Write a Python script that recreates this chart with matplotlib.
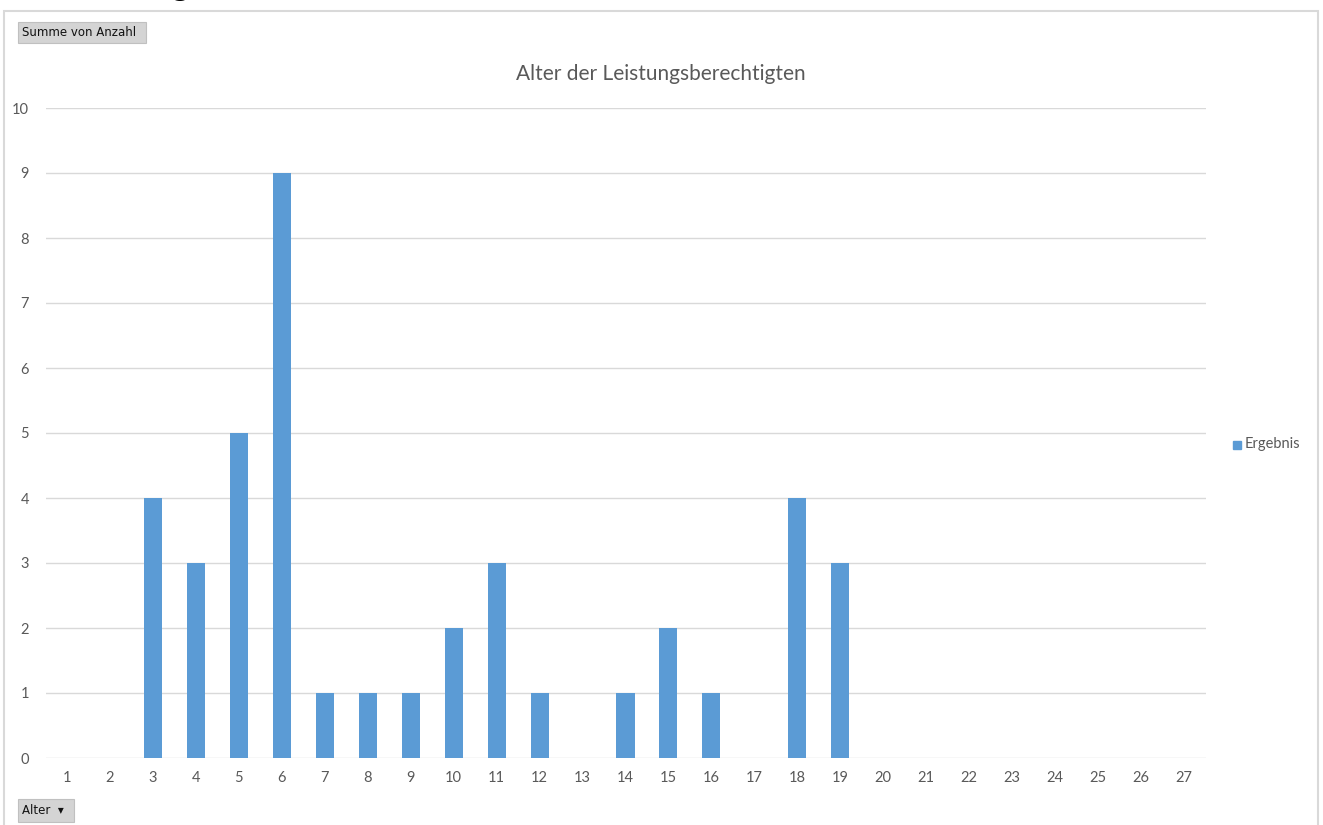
import matplotlib
matplotlib.use("Agg")
import matplotlib.pyplot as plt
from matplotlib.patches import Rectangle

alter = list(range(1, 28))
anzahl = [0, 0, 4, 3, 5, 9, 1, 1, 1, 2, 3, 1, 0, 1, 2, 1, 0, 4, 3, 0, 0, 0, 0, 0, 0, 0, 0]
yticks = list(range(0, 11))

W, H = 1323, 825
fig = plt.figure(figsize=(W / 100, H / 100), dpi=100)
plt.rcParams['font.family'] = ['Lato', 'DejaVu Sans']

# chart frame
fig.patches.append(Rectangle((4 / W, -0.1), 1314 / W, 1.1 - 11 / H, transform=fig.transFigure,
                             fill=False, edgecolor='#d9d9d9', linewidth=1.5))

ax = fig.add_axes([45.5 / W, 1 - 758 / H, 1160 / W, 650 / H])
ax.bar(alter, anzahl, width=0.42, color='#5b9bd5', zorder=3, label='Ergebnis')
ax.set_xlim(0.5, 27.5)
ax.set_ylim(0, 10)
ax.set_yticks(yticks)
ax.set_xticks(alter)
ax.grid(axis='y', color='#d9d9d9', linewidth=1, zorder=0)
for s in ax.spines.values():
    s.set_visible(False)
ax.tick_params(length=0, colors='#595959', labelsize=10.5)
ax.tick_params(axis='y', pad=12)
ax.tick_params(axis='x', pad=9)

fig.text(661 / W, 1 - 74 / H, 'Alter der Leistungsberechtigten', ha='center', va='center',
         fontsize=15, color='#595959')

# legend
fig.patches.append(Rectangle((1233 / W, 1 - 449 / H), 8 / W, 8 / H, transform=fig.transFigure,
                             color='#5b9bd5'))
fig.text(1245 / W, 1 - 444 / H, 'Ergebnis', ha='left', va='center', fontsize=10.5, color='#595959')

# pivot field buttons
for x0, y0, w, h, label in [(18, 22, 128, 21, 'Summe von Anzahl'), (18, 799, 56, 23, 'Alter  \u25be')]:
    fig.patches.append(Rectangle((x0 / W, 1 - (y0 + h) / H), w / W, h / H, transform=fig.transFigure,
                                 facecolor='#d4d4d4', edgecolor='#c0c0c0', linewidth=0.8))
    fig.text((x0 + 4) / W, 1 - (y0 + h / 2) / H, label, ha='left', va='center',
             fontsize=8.5, color='#111111', family='DejaVu Sans')

# descender of heading cut off above the chart
fig.text(180 / W, 1 + 5 / H, 'g', ha='center', va='baseline', fontsize=26, color='black')

fig.savefig('out.png', dpi=100)
